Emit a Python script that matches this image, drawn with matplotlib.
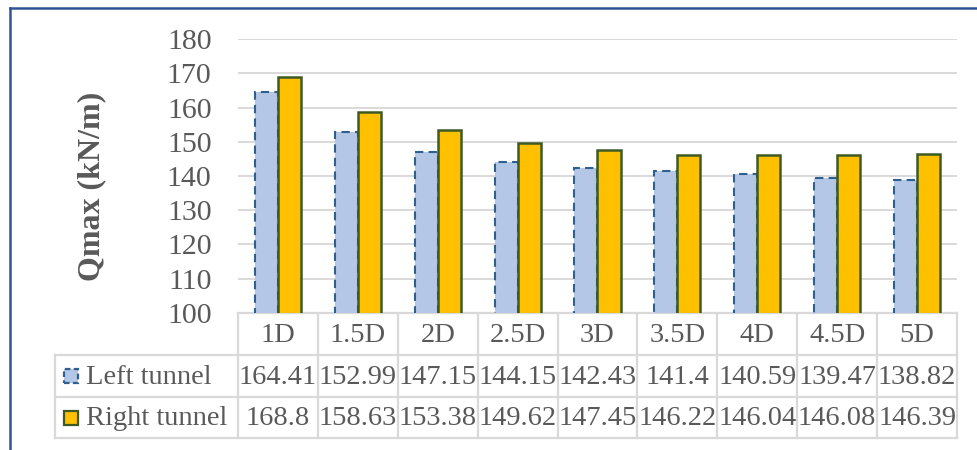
import matplotlib
matplotlib.use("Agg")
import matplotlib.pyplot as plt
from matplotlib.patches import Rectangle
from matplotlib.lines import Line2D
import numpy as np

categories = ["1D", "1.5D", "2D", "2.5D", "3D", "3.5D", "4D", "4.5D", "5D"]
left_tunnel = [164.41, 152.99, 147.15, 144.15, 142.43, 141.4, 140.59, 139.47, 138.82]
right_tunnel = [168.8, 158.63, 153.38, 149.62, 147.45, 146.22, 146.04, 146.08, 146.39]
left_labels = ["164.41", "152.99", "147.15", "144.15", "142.43", "141.4", "140.59", "139.47", "138.82"]
right_labels = ["168.8", "158.63", "153.38", "149.62", "147.45", "146.22", "146.04", "146.08", "146.39"]
series_names = ["Left tunnel", "Right tunnel"]
y_ticks = [100, 110, 120, 130, 140, 150, 160, 170, 180]
y_label = "Qmax (kN/m)"

W, H = 978, 450
fig = plt.figure(figsize=(W / 100, H / 100), dpi=100)
plt.rcParams["font.family"] = ["Liberation Serif", "DejaVu Serif"]

ax_l, ax_r, ax_t, ax_b = 238, 957, 39, 313
ax = fig.add_axes([ax_l / W, 1 - ax_b / H, (ax_r - ax_l) / W, (ax_b - ax_t) / H])

def py(p):
    # pixel y -> axes y
    return (ax_b - p) / (ax_b - ax_t)

def px(p):
    return (p - ax_l) / (ax_r - ax_l)

text_col = "#595959"
grid_col = "#D9D9D9"

x = np.arange(len(categories))
bw = 0.288
ax.bar(x - bw / 2, left_tunnel, width=bw, color="#B4C7E7", edgecolor="#2E5F8E",
       linewidth=1.5, linestyle=(0, (4, 2.5)), zorder=3)
ax.bar(x + bw / 2, right_tunnel, width=bw, color="#FFC000", edgecolor="#3D5A23",
       linewidth=1.8, zorder=4)

ax.set_xlim(-0.5, len(categories) - 0.5)
ax.set_ylim(100, 180)
ax.set_yticks(y_ticks)
ax.set_yticklabels([str(t) for t in y_ticks], fontsize=21.5, color=text_col)
ax.tick_params(axis="y", length=0, pad=19)
ax.set_xticks([])
for s in ax.spines.values():
    s.set_visible(False)
ax.yaxis.grid(True, color=grid_col, linewidth=1.4, zorder=0)
ax.set_axisbelow(True)

ax.set_ylabel(y_label, fontsize=23, fontweight="bold", color=text_col)
ax.yaxis.set_label_coords(px(106), py(186))

# data table
row_lines = [313, 355, 397, 438]
tr = ax.get_xaxis_transform()
n = len(categories)
lw_t = 1.6
ax.add_line(Line2D([-0.5, n - 0.5], [py(row_lines[0])] * 2, transform=tr, color=grid_col, lw=lw_t, clip_on=False))
for yy in row_lines[1:]:
    ax.add_line(Line2D([px(55), 1], [py(yy)] * 2, transform=ax.transAxes, color=grid_col, lw=lw_t, clip_on=False))
for i in range(n + 1):
    xv = i - 0.5
    ax.add_line(Line2D([xv, xv], [py(row_lines[0]), py(row_lines[3])], transform=tr, color=grid_col, lw=lw_t, clip_on=False))
ax.add_line(Line2D([px(55), px(55)], [py(row_lines[1]), py(row_lines[3])], transform=ax.transAxes, color=grid_col, lw=lw_t, clip_on=False))

fs_tab = 20.5
for i, c in enumerate(categories):
    ax.text(i, py((row_lines[0] + row_lines[1]) / 2 + 1), c, transform=tr, ha="center", va="center",
            fontsize=fs_tab, color=text_col, clip_on=False)
    ax.text(i, py((row_lines[1] + row_lines[2]) / 2 + 1), left_labels[i], transform=tr, ha="center", va="center",
            fontsize=fs_tab, color=text_col, clip_on=False)
    ax.text(i, py((row_lines[2] + row_lines[3]) / 2 + 1), right_labels[i], transform=tr, ha="center", va="center",
            fontsize=fs_tab, color=text_col, clip_on=False)

for k, (name, fc, ec, ls) in enumerate([
        (series_names[0], "#B4C7E7", "#2E5F8E", (0, (2.5, 1.5))),
        (series_names[1], "#FFC000", "#3D5A23", "solid")]):
    yc = (row_lines[1 + k] + row_lines[2 + k]) / 2
    ax.add_patch(Rectangle((px(64), py(yc + 7)), px(78) - px(64), py(yc - 7) - py(yc + 7),
                           transform=ax.transAxes, facecolor=fc, edgecolor=ec, lw=1.6,
                           linestyle=ls, clip_on=False))
    ax.text(px(86), py(yc + 1), name, transform=ax.transAxes, ha="left", va="center",
            fontsize=fs_tab, color=text_col, clip_on=False)

# outer chart frame (cropped on right and bottom)
fig.add_artist(Line2D([9.5 / W, 1], [1 - 7.5 / H] * 2, transform=fig.transFigure, color="#2F5597", lw=1.8))
fig.add_artist(Line2D([9.5 / W] * 2, [0, 1 - 7.5 / H], transform=fig.transFigure, color="#2F5597", lw=1.8))

fig.savefig("out.png", dpi=100)
